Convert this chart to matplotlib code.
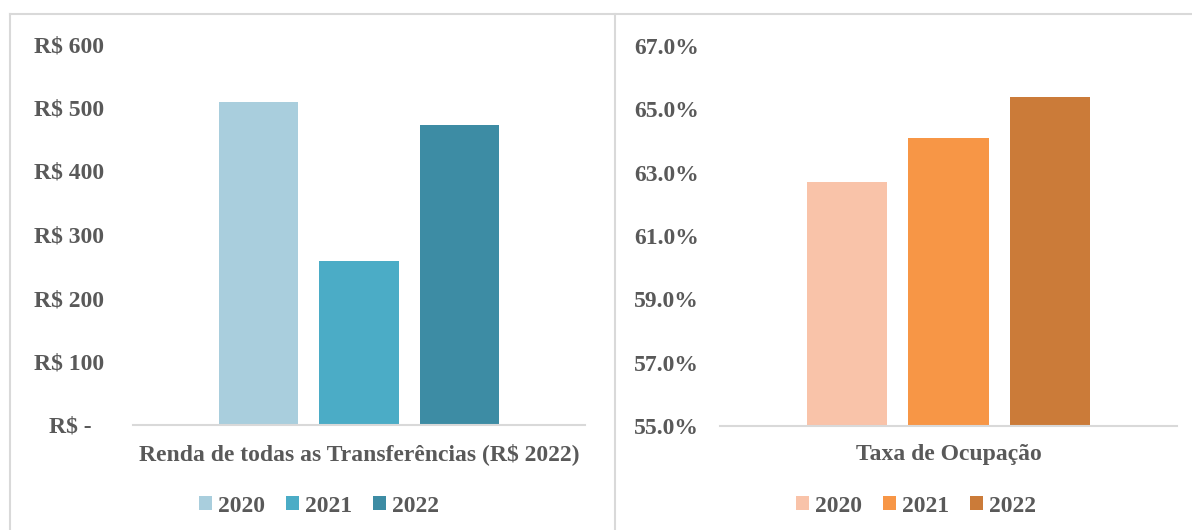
import matplotlib.pyplot as plt
from matplotlib.patches import Patch
from matplotlib.lines import Line2D
from matplotlib.ticker import FuncFormatter
import numpy as np

# Dados
anos = ['2020', '2021', '2022']
renda_transf = [508, 258, 472]
taxa_ocupacao = [62.7, 64.1, 65.4]
cat_renda = 'Renda de todas as Transferências (R$ 2022)'
cat_taxa = 'Taxa de Ocupação'

cores_renda = ['#A9CEDD', '#4BACC6', '#3D8CA4']
cores_taxa = ['#F9C3A9', '#F79646', '#CB7B39']

txt = '#595959'
borda = '#D9D9D9'
plt.rcParams['font.family'] = ['Liberation Serif', 'DejaVu Serif']
plt.rcParams['font.weight'] = 'bold'
FS = 17

W, H = 1192, 530
fig = plt.figure(figsize=(W / 100, H / 100), dpi=100)


def px(x0, y_top, x1, y_bot):
    return [x0 / W, 1 - y_bot / H, (x1 - x0) / W, (y_bot - y_top) / H]


# Bordas dos painéis
fig.add_artist(Line2D([10 / W, 1], [1 - 14 / H] * 2, color=borda, lw=1.5))
fig.add_artist(Line2D([10 / W] * 2, [0, 1 - 14 / H], color=borda, lw=1.5))
fig.add_artist(Line2D([615 / W] * 2, [0, 1 - 14 / H], color=borda, lw=1.5))


def painel(rect, valores, cores, categoria, ylim, yticks, fmt, pad, leg_x):
    ax = fig.add_axes(rect)
    xs = np.arange(len(valores)) - 1
    ax.bar(xs, valores, width=0.79, color=cores, zorder=2)
    ax.set_xlim(-2.25, 2.25)
    ax.set_ylim(*ylim)
    ax.set_yticks(yticks)
    ax.yaxis.set_major_formatter(FuncFormatter(fmt))
    ax.set_xticks([0])
    ax.set_xticklabels([categoria])
    ax.tick_params(axis='both', length=0, labelsize=FS, labelcolor=txt)
    ax.tick_params(axis='y', pad=pad)
    ax.tick_params(axis='x', pad=13)
    for s in ['top', 'right', 'left']:
        ax.spines[s].set_visible(False)
    ax.spines['bottom'].set_color(borda)
    ax.spines['bottom'].set_linewidth(1.5)
    handles = [Patch(facecolor=c, edgecolor='none') for c in cores]
    ax.legend(handles, anos, loc='center', bbox_to_anchor=(leg_x, 1 - 506 / H),
              bbox_transform=fig.transFigure, ncol=3, frameon=False,
              handlelength=0.55, handleheight=0.55, handletextpad=0.25,
              columnspacing=0.9, prop={'size': FS, 'weight': 'bold'},
              labelcolor=txt)
    return ax


def fmt_renda(v, pos):
    if v == 0:
        return 'R$ -  '
    return f'R$ {v:.0f}'


def fmt_taxa(v, pos):
    return f'{v:.1f}%'


painel(px(133, 44, 585, 425), renda_transf, cores_renda, cat_renda,
       (0, 600), np.arange(0, 601, 100), fmt_renda, 21, 319 / W)
painel(px(720, 46, 1177, 426), taxa_ocupacao, cores_taxa, cat_taxa,
       (55, 67), np.arange(55, 67.1, 2), fmt_taxa, 15, 916 / W)

fig.savefig('out.png', dpi=100)
